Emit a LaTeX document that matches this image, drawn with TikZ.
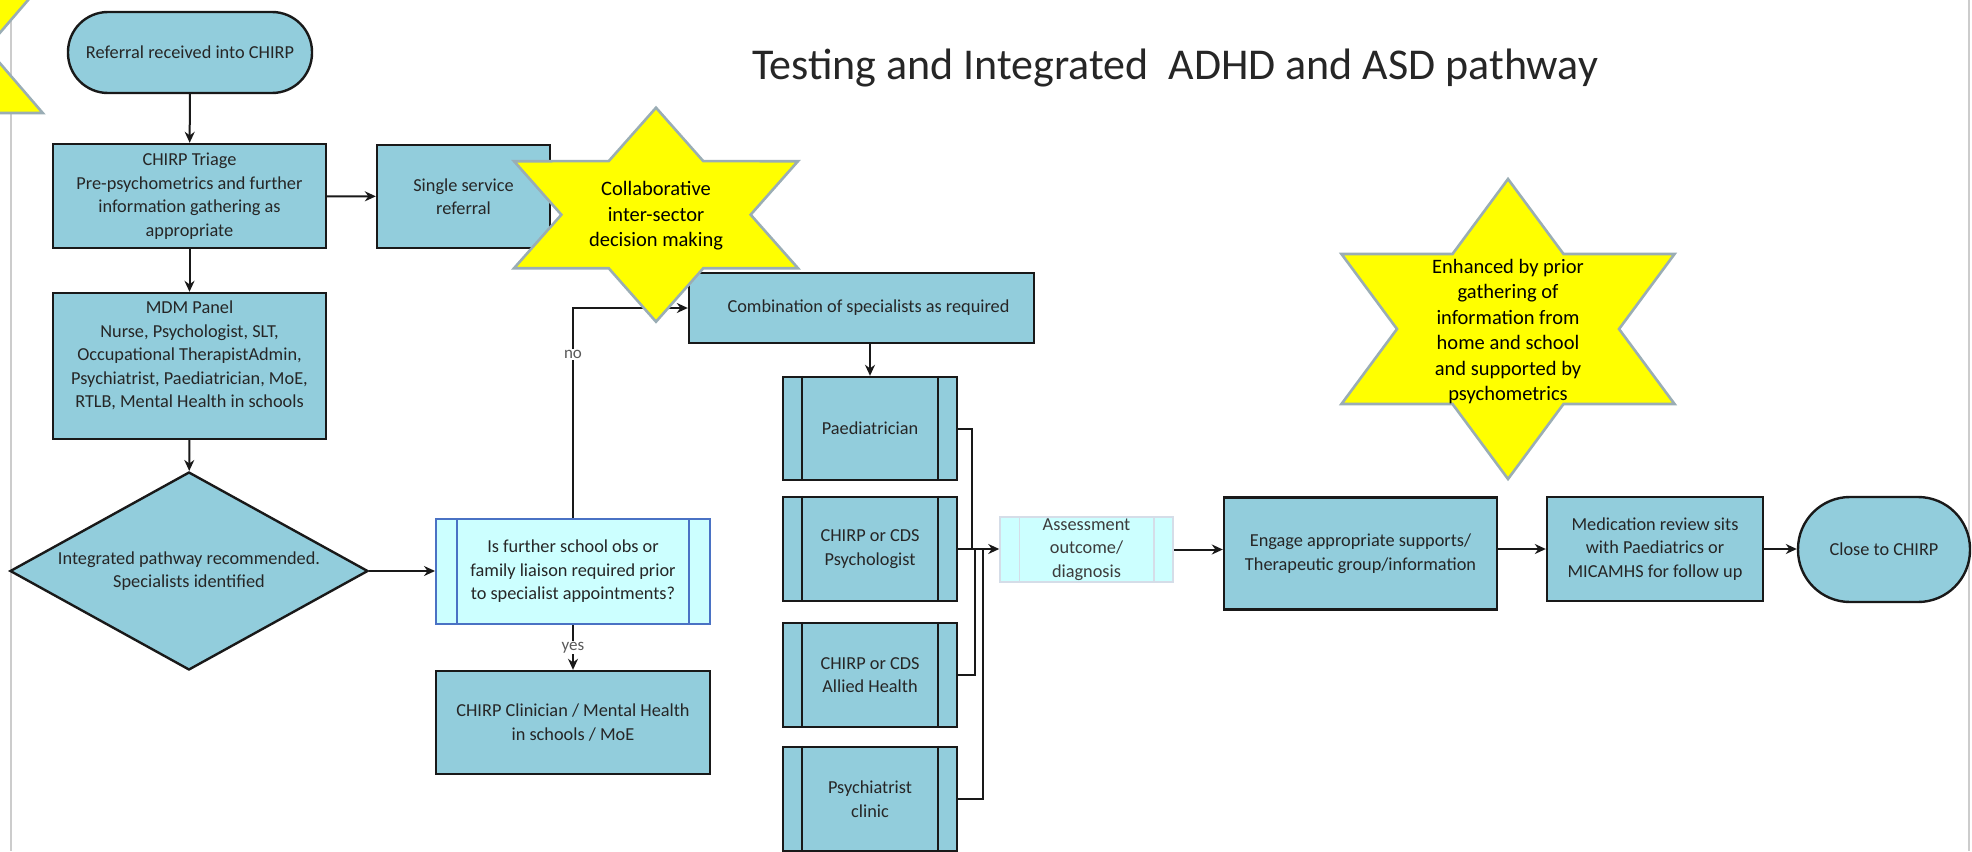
\documentclass[tikz,border=0pt]{standalone}
\usepackage{fontspec}
\setmainfont{Carlito}
\usetikzlibrary{arrows.meta,shapes.geometric}
\definecolor{boxfill}{HTML}{92CDDC}
\definecolor{qfill}{HTML}{CCFFFF}
\definecolor{qline}{HTML}{4A72C4}
\definecolor{aline}{HTML}{D5DDE8}
\definecolor{starfill}{HTML}{FFFF00}
\definecolor{starline}{HTML}{9AADB5}
\definecolor{txt}{HTML}{262626}
\definecolor{pageline}{HTML}{CCCCCC}
\begin{document}
\begin{tikzpicture}[x=1pt,y=-1pt,
  basefont/.style={font=\fontsize{18.3}{23.5}\selectfont},
  box/.style={draw=black!90, line width=2.4pt, fill=boxfill, inner sep=0pt, align=center, text=txt, basefont},
  term/.style={box, rounded corners=#1},
  qbox/.style={draw=qline, line width=2pt, fill=qfill, inner sep=0pt, align=center, text=txt, basefont},
  abox/.style={draw=aline, line width=1.5pt, fill=qfill, inner sep=0pt, align=center, text=txt!90, basefont},
  bar/.style={draw=black!90, line width=2.4pt},
  conn/.style={draw=black!90, line width=2pt, -{Stealth[length=11pt,width=10pt]}},
  plain/.style={draw=black!90, line width=2pt},
  lab/.style={fill=white, inner sep=1pt, text=black!65, font=\fontsize{17}{20}\selectfont},
  starst/.style={fill=starfill, draw=starline, line width=2.6pt},
  startxt/.style={align=center, text=black, font=\fontsize{20.5}{25.5}\selectfont},
  titlest/.style={text=black!85, font=\fontsize{44}{50}\selectfont}
]
\useasboundingbox (0,0) rectangle (1972,851);
\fill[white] (0,0) rectangle (1972,851);
% page borders
\draw[pageline, line width=2pt] (11,0) -- (11,851);
\draw[pageline, line width=2pt] (1969,0) -- (1969,851);

% title
\node[titlest, anchor=base] (title) at (1175,79) {Testing and Integrated\ \ ADHD and ASD pathway};

% left column
\node[term=40pt, minimum width=244pt, minimum height=81pt] (start) at (190,52.5) {Referral received into CHIRP};
\node[box, minimum width=273pt, minimum height=104pt] (triage) at (189.5,196) {CHIRP Triage\\Pre-psychometrics and further\\information gathering as\\appropriate};
\node[box, minimum width=273pt, minimum height=146pt] (mdm) at (189.5,366) {MDM Panel\\Nurse, Psychologist, SLT,\\Occupational TherapistAdmin,\\Psychiatrist, Paediatrician, MoE,\\RTLB, Mental Health in schools\\\mbox{}};
\node[shape=diamond, draw=black!90, line width=2.4pt, fill=boxfill, inner sep=0pt, minimum width=358pt, minimum height=198pt,
  label={[align=center, text=txt, basefont]center:Integrated pathway recommended.\\Specialists identified}] (dia) at (189,571) {};

\node[box, minimum width=173pt, minimum height=103pt] (single) at (463.5,196.5) {Single service\\referral};

% question
\node[qbox, minimum width=274pt, minimum height=105pt] (q) at (573,571.5) {Is further school obs or\\family liaison required prior\\to specialist appointments?};
\draw[qline, line width=2pt] ([xshift=22pt]q.north west) -- ([xshift=22pt]q.south west);
\draw[qline, line width=2pt] ([xshift=-22pt]q.north east) -- ([xshift=-22pt]q.south east);
\node[box, minimum width=274pt, minimum height=103pt] (clin) at (573,722.5) {CHIRP Clinician / Mental Health\\in schools / MoE};

% specialists
\node[box, minimum width=345pt, minimum height=70pt,
  label={[text=txt, basefont, xshift=7pt]center:Combination of specialists as required}] (comb) at (861.5,308) {};
\node[box, minimum width=174pt, minimum height=103pt] (paed) at (870,428.5) {Paediatrician};
\node[box, minimum width=174pt, minimum height=104pt] (psych) at (870,549) {CHIRP or CDS\\Psychologist};
\node[box, minimum width=174pt, minimum height=104pt] (allied) at (870,675) {CHIRP or CDS\\Allied Health};
\node[box, minimum width=174pt, minimum height=104pt] (psychi) at (870,799) {Psychiatrist\\clinic};
\foreach \n in {paed,psych,allied,psychi}{
  \draw[bar] ([xshift=20pt]\n.north west) -- ([xshift=20pt]\n.south west);
  \draw[bar] ([xshift=-20pt]\n.north east) -- ([xshift=-20pt]\n.south east);
}

% outcome row
\node[abox, minimum width=173pt, minimum height=65pt] (assess) at (1086.5,549.5) {Assessment\\outcome/\\diagnosis};
\draw[aline, line width=1.5pt] ([xshift=20pt]assess.north west) -- ([xshift=20pt]assess.south west);
\draw[aline, line width=1.5pt] ([xshift=-20pt]assess.north east) -- ([xshift=-20pt]assess.south east);
\node[box, minimum width=273pt, minimum height=112pt] (engage) at (1360.5,553.5) {Engage appropriate supports/\\Therapeutic group/information};
\node[box, minimum width=216pt, minimum height=104pt] (med) at (1655,549) {Medication review sits\\with Paediatrics or\\MICAMHS for follow up};
\node[term=52pt, minimum width=172pt, minimum height=105pt] (close) at (1884,549.5) {Close to CHIRP};

% connectors
\coordinate (jA) at (972,549);
\coordinate (jB) at (975,549);
\coordinate (jC) at (983,549);
\draw[conn] (start) -- (triage);
\draw[conn] (triage) -- (single);
\draw[conn] (triage) -- (mdm);
\draw[conn] (mdm) -- (dia);
\draw[conn] (dia.east) -- (q.west |- dia.east);
\draw[conn] (q.north) |- node[lab, pos=0.389] {no} (comb.west);
\draw[conn] (q.south) -- node[lab] {yes} (clin.north);
\draw[conn] (comb.south -| paed.north) -- (paed.north);
\draw[plain] (paed.east) -| (jA);
\draw[plain] (allied.east) -| (jB);
\draw[plain] (psychi.east) -| (jC);
\draw[conn] (psych.east) -- (assess.west |- psych.east);
\draw[conn] (assess.east) -- (assess.east -| engage.west);
\draw[conn] (med.west -| engage.east) -- (med.west);
\draw[conn] (med.east) -- (close.west |- med.east);

% stars
\begin{scope}[shift={(-125,48)}, xscale=1.49]
\draw[starst] (90:130) -- (120:75.06) -- (150:130) -- (180:75.06) -- (210:130) -- (240:75.06) -- (270:130) -- (300:75.06) -- (330:130) -- (0:75.06) -- (30:130) -- (60:75.06) -- cycle;
\end{scope}
\begin{scope}[shift={(656,214.7)}, xscale=1.532]
\draw[starst] (90:107) -- (120:61.78) -- (150:107) -- (180:61.78) -- (210:107) -- (240:61.78) -- (270:107) -- (300:61.78) -- (330:107) -- (0:61.78) -- (30:107) -- (60:61.78) -- cycle;
\end{scope}
\node[startxt] (collab) at (656,216) {Collaborative\\inter-sector\\decision making};
\begin{scope}[shift={(1508,329)}, xscale=1.282]
\draw[starst] (90:150) -- (120:86.6) -- (150:150) -- (180:86.6) -- (210:150) -- (240:86.6) -- (270:150) -- (300:86.6) -- (330:150) -- (0:86.6) -- (30:150) -- (60:86.6) -- cycle;
\end{scope}
\node[startxt] (enh) at (1508,331.5) {Enhanced by prior\\gathering of\\information from\\home and school\\and supported by\\psychometrics};
\end{tikzpicture}
\end{document}
